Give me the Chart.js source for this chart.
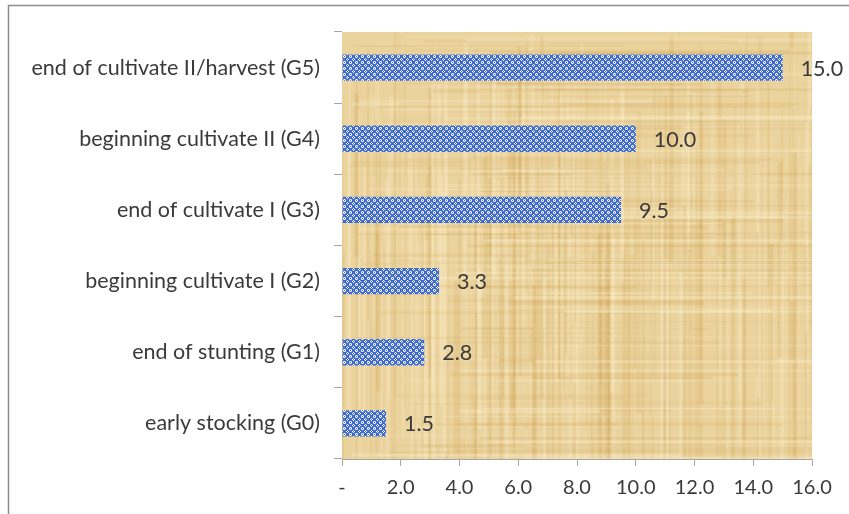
<!DOCTYPE html>
<html>
<head>
<meta charset="utf-8">
<script src="https://cdn.jsdelivr.net/npm/chart.js@4.4.1/dist/chart.umd.min.js"></script>
<style>
  html, body { margin: 0; padding: 0; background: #fff; }
  #wrap { width: 849px; height: 514px; position: relative; }
</style>
</head>
<body>
<div id="wrap"><canvas id="growthChart" width="849" height="514"></canvas></div>
<script>
// Chart data
const stages = [
  'end of cultivate II/harvest (G5)',
  'beginning cultivate II (G4)',
  'end of cultivate I (G3)',
  'beginning cultivate I (G2)',
  'end of stunting (G1)',
  'early stocking (G0)'
];
const stageValues = [15.0, 10.0, 9.5, 3.3, 2.8, 1.5];
const xTickMax = 16;
const xTickStep = 2;

const labelFont = 'Lato, "Open Sans", sans-serif';
const textColor = '#3a3a3a';

// Blue lattice fill for the bars (small white rings on blue)
function makeBarPattern() {
  const c = document.createElement('canvas');
  c.width = 6; c.height = 6;
  const g = c.getContext('2d');
  g.fillStyle = '#3f6ccc';
  g.fillRect(0, 0, 6, 6);
  g.fillStyle = '#ffffff';
  const whites = [[2,1],[1,2],[3,2],[2,3],[5,4],[4,5],[5,0],[0,5]];
  whites.forEach(([x, y]) => g.fillRect(x, y, 1, 1));
  g.fillStyle = 'rgba(255,255,255,0.5)';
  [[1,1],[3,1],[1,3],[3,3]].forEach(([x, y]) => g.fillRect(x, y, 1, 1));
  return g.createPattern(c, 'repeat');
}

// Papyrus-like texture for the plot area (deterministic streaks)
function makePapyrus(w, h) {
  const c = document.createElement('canvas');
  c.width = w; c.height = h;
  const g = c.getContext('2d');
  g.fillStyle = '#ebd39e';
  g.fillRect(0, 0, w, h);
  let seed = 11;
  const rnd = () => { seed = (seed * 16807) % 2147483647; return seed / 2147483647; };
  // vertical fibres
  for (let i = 0; i < 300; i++) {
    const x = rnd() * w;
    const lw = 1 + rnd() * 4;
    const dark = rnd() < 0.5;
    g.fillStyle = dark ? `rgba(200,150,60,${0.06 + rnd() * 0.14})` : `rgba(255,243,210,${0.08 + rnd() * 0.22})`;
    const y0 = rnd() * h * 0.6;
    g.fillRect(x, y0, lw, h * (0.3 + rnd() * 0.7));
  }
  // horizontal fibres
  for (let i = 0; i < 180; i++) {
    const y = rnd() * h;
    const lh = 1 + rnd() * 3;
    const dark = rnd() < 0.5;
    g.fillStyle = dark ? `rgba(200,155,70,${0.05 + rnd() * 0.12})` : `rgba(255,246,215,${0.08 + rnd() * 0.2})`;
    const x0 = rnd() * w * 0.5;
    g.fillRect(x0, y, w * (0.3 + rnd() * 0.7), lh);
  }
  return c;
}

const plotBackground = {
  id: 'plotBackground',
  beforeDatasetsDraw(chart) {
    const a = chart.chartArea;
    const ctx = chart.ctx;
    if (!this._tex) this._tex = makePapyrus(Math.round(a.right - a.left), Math.round(a.bottom - a.top));
    ctx.save();
    ctx.drawImage(this._tex, a.left, a.top);
    ctx.restore();
  }
};

const outerBorder = {
  id: 'outerBorder',
  afterDraw(chart) {
    const ctx = chart.ctx;
    ctx.save();
    ctx.strokeStyle = '#8c8c8c';
    ctx.lineWidth = 1.5;
    ctx.strokeRect(8.5, 5.5, 1000, 1000);
    ctx.restore();
  }
};

const valueLabels = {
  id: 'valueLabels',
  afterDatasetsDraw(chart) {
    const ctx = chart.ctx;
    const meta = chart.getDatasetMeta(0);
    ctx.save();
    ctx.font = '21.5px ' + labelFont;
    ctx.fillStyle = textColor;
    ctx.textAlign = 'left';
    ctx.textBaseline = 'middle';
    meta.data.forEach((bar, i) => {
      ctx.fillText(stageValues[i].toFixed(1), bar.x + 18, bar.y + 1);
    });
    ctx.restore();
  }
};

const ctx = document.getElementById('growthChart').getContext('2d');
const barPattern = makeBarPattern();

new Chart(ctx, {
  type: 'bar',
  data: {
    labels: stages,
    datasets: [{
      data: stageValues,
      backgroundColor: barPattern,
      borderWidth: 0,
      categoryPercentage: 1,
      barPercentage: 0.37
    }]
  },
  options: {
    indexAxis: 'y',
    responsive: false,
    animation: false,
    layout: { padding: { top: 32, right: 37, bottom: 0, left: 0 } },
    plugins: {
      legend: { display: false },
      tooltip: { enabled: false }
    },
    scales: {
      x: {
        min: 0,
        max: xTickMax,
        afterFit: (s) => { s.height = 55; },
        ticks: {
          stepSize: xTickStep,
          color: textColor,
          font: { family: labelFont, size: 20 },
          padding: 10,
          callback: (v) => v === 0 ? '-' : v.toFixed(1)
        },
        grid: { drawOnChartArea: false, tickLength: 7, color: '#a6a6a6' },
        border: { color: '#a6a6a6' }
      },
      y: {
        afterFit: (s) => { s.width = 342; },
        ticks: {
          color: textColor,
          font: { family: labelFont, size: 21.5 },
          padding: 14
        },
        grid: { drawOnChartArea: false, offset: true, tickLength: 8, color: '#a6a6a6' },
        border: { color: '#a6a6a6' }
      }
    }
  },
  plugins: [plotBackground, valueLabels, outerBorder]
});
</script>
</body>
</html>
